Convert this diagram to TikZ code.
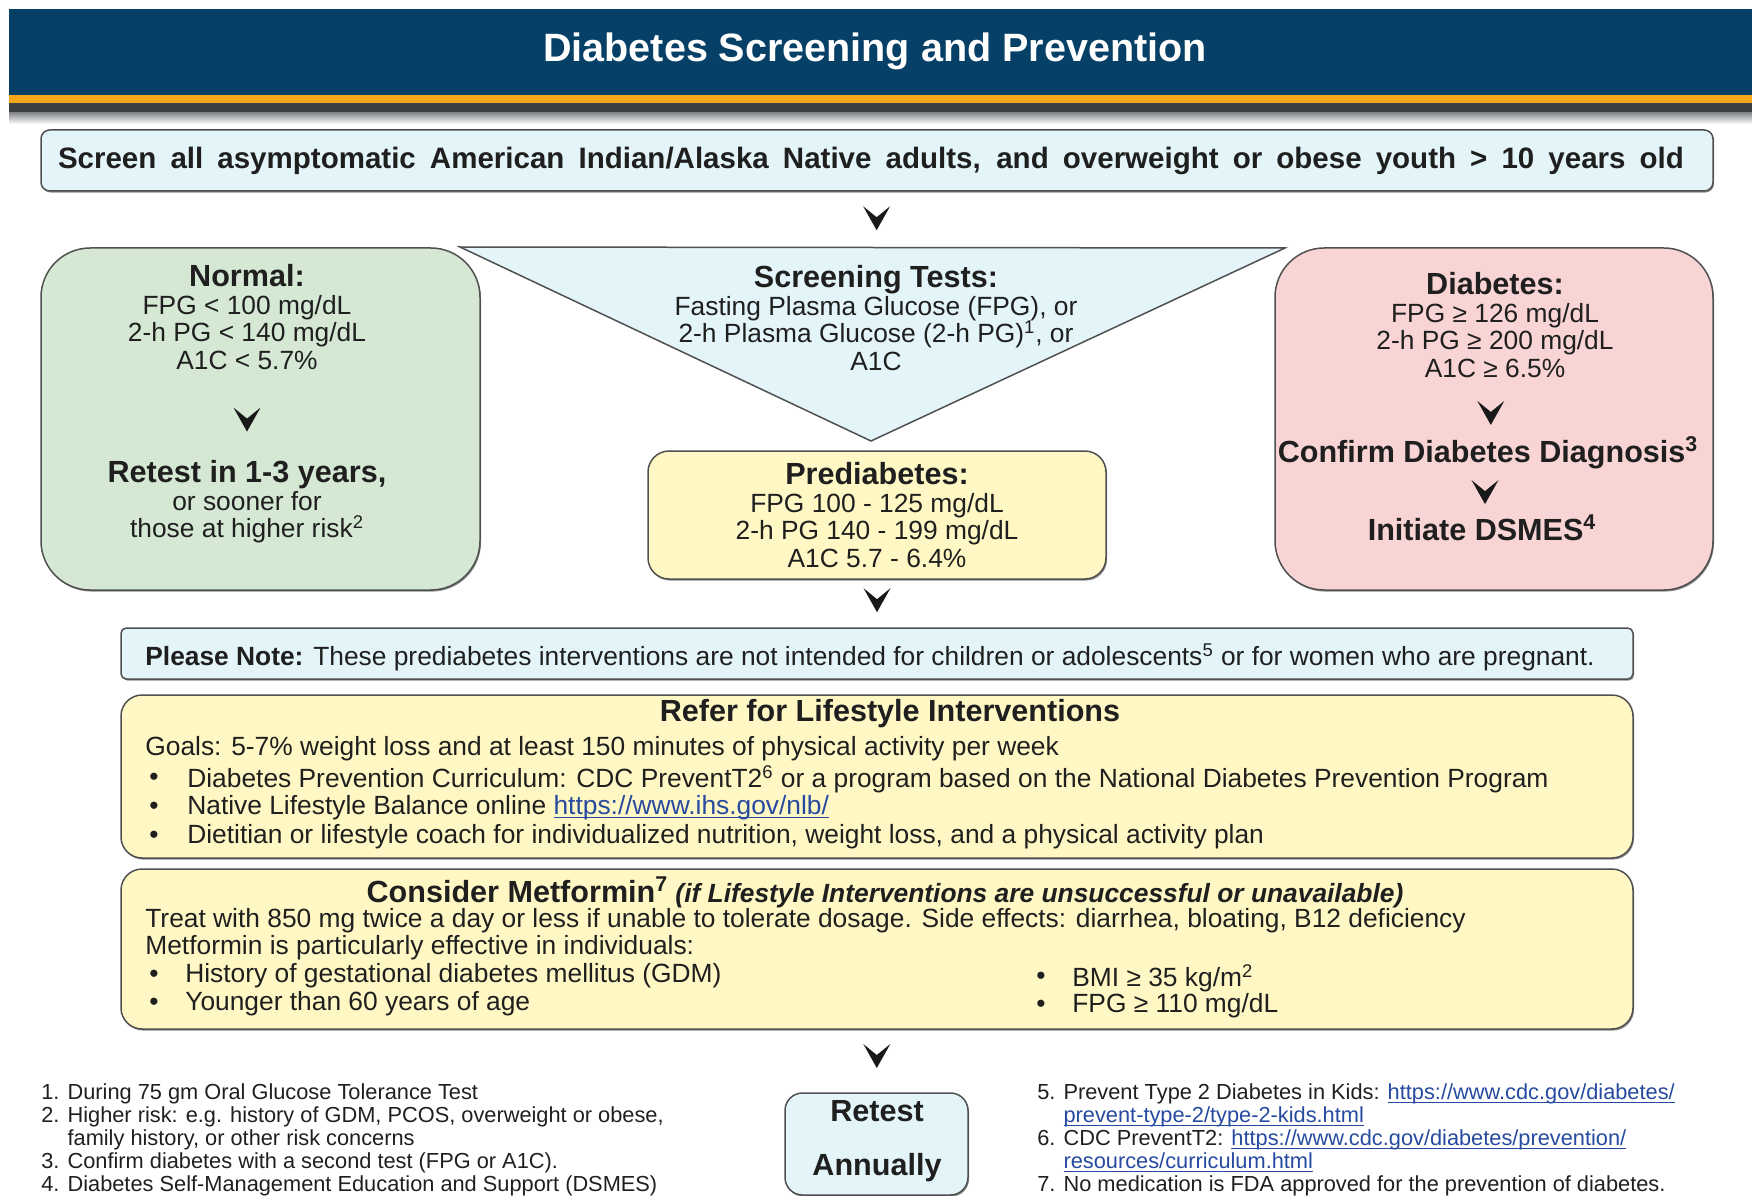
\documentclass[tikz,border=0pt]{standalone}
\usepackage{fontspec}
\setmainfont{Liberation Sans}
\usepackage{tikz}
\usetikzlibrary{fit,calc,shadows}

\definecolor{hdrblue}{RGB}{7,64,103}
\definecolor{hdrorange}{RGB}{247,167,27}
\definecolor{hdrgray}{RGB}{60,64,68}
\definecolor{boxblue}{RGB}{228,245,250}
\definecolor{boxgreen}{RGB}{213,232,212}
\definecolor{boxpink}{RGB}{248,212,212}
\definecolor{boxyellow}{RGB}{255,248,196}
\definecolor{boxline}{RGB}{80,80,80}
\definecolor{linkblue}{RGB}{38,74,160}

\newlength{\pxu}\setlength{\pxu}{0.02cm}
\newcommand{\ftitle}{\fontsize{22.5}{24}\selectfont\bfseries}
\newcommand{\fhead}{\fontsize{17.4}{19}\selectfont\bfseries}
\newcommand{\fbody}{\fontsize{15}{15.6}\selectfont}
\newcommand{\ffoot}{\fontsize{12.4}{13.2}\selectfont}
\newcommand{\weblink}[1]{\textcolor{linkblue}{\setbox0\hbox{#1}\rlap{\rule[-2pt]{\wd0}{0.55pt}}\box0}}

\begin{document}
\begin{tikzpicture}[x=0.02cm, y=-0.02cm,
    box/.style={draw=boxline, line width=1.5\pxu, inner sep=0pt,
      drop shadow={shadow xshift=0.6pt, shadow yshift=-0.9pt, opacity=0.45, fill=black}},
    txt/.style={font=\fbody, align=center, inner sep=0pt, text=black!88},
    lefttxt/.style={font=\fbody, align=left, anchor=west, inner sep=0pt, text=black!88},
    chev/.pic={\fill[black!90] (0,12) -- (-13.5,-12) -- (0,-1) -- (13.5,-12) -- cycle;}]
    \useasboundingbox (0,0) rectangle (1752,1196);
    % header band
    \fill[hdrblue] (9,9) rectangle (1752,95);
    \fill[hdrorange] (9,95) rectangle (1752,103);
    \fill[hdrgray] (9,103) rectangle (1752,113);
    \shade[top color=hdrgray!60, bottom color=white] (9,113) rectangle (1752,124);
    \node[font=\ftitle, text=white] (title) at (875,51) {Diabetes Screening and Prevention};

    % who to screen
    \node[box, fill=boxblue, rounded corners=5pt, fit={(41,130) (1713,191)}] (screen) {};
    \node[txt, font=\fontsize{16.8}{18}\selectfont\bfseries] (screentxt) at (871,161)
      {\makebox[1626\pxu][s]{Screen all asymptomatic American Indian/Alaska Native adults, and overweight or obese youth > 10 years old}};

    % screening tests (funnel)
    \coordinate (tl) at (460,247);
    \coordinate (tr) at (1285,248);
    \coordinate (tb) at (871,441);
    \draw[boxline, line width=1.5\pxu, fill=boxblue] (tl) -- (tr) -- (tb) -- cycle;
    \node[txt] (tests) at (876,318) {{\fhead Screening Tests:}\\Fasting Plasma Glucose (FPG), or\\2-h Plasma Glucose (2-h PG)\textsuperscript{1}, or\\A1C};
    \pic at ($(screen.south)!0.36!(tests.north)$) {chev};

    % normal
    \node[box, fill=boxgreen, rounded corners=28pt, fit={(41,248) (480,590)}] (normal) {};
    \node[txt] (normalvals) at (247,317) {{\fhead Normal:}\\FPG < 100 mg/dL\\2-h PG < 140 mg/dL\\A1C < 5.7\%};
    \node[txt] (normalretest) at (247,502) {{\fhead Retest in 1-3 years,}\\or sooner for\\those at higher risk\textsuperscript{2}};
    \pic at ($(normalvals.south)!0.55!(normalretest.north)$) {chev};

    % prediabetes
    \node[box, fill=boxyellow, rounded corners=12pt, fit={(648,451) (1106,579)}] (pre) {};
    \node[txt] (prevals) at (877,515) {{\fhead Prediabetes:}\\FPG 100 - 125 mg/dL\\2-h PG 140 - 199 mg/dL\\A1C 5.7 - 6.4\%};

    % diabetes
    \node[box, fill=boxpink, rounded corners=28pt, fit={(1275,248) (1713,590)}] (diab) {};
    \node[txt] (diabvals) at (1495,325) {{\fhead Diabetes:}\\FPG ≥ 126 mg/dL\\2-h PG ≥ 200 mg/dL\\A1C ≥ 6.5\%};
    \node[txt, font=\fhead] (confirm) at (1488,453) {Confirm Diabetes Diagnosis\textsuperscript{3}};
    \node[txt, font=\fhead] (dsmes) at (1482,528) {Initiate DSMES\textsuperscript{4}};
    \pic at ($(diabvals.south)!0.6!(confirm.north)$) {chev};
    \pic at ($(confirm.south)!0.5!(dsmes.north)$) {chev};

    % note
    \node[box, fill=boxblue, rounded corners=3pt, fit={(121,628) (1633,679)}] (note) {};
    \node[lefttxt] (notetxt) at (145,657) {\textbf{Please Note:} These prediabetes interventions are not intended for children or adolescents\textsuperscript{5} or for women who are pregnant.};
    \pic at ($(pre.south)!0.43!(note.north)$) {chev};

    % lifestyle
    \node[box, fill=boxyellow, rounded corners=12pt, fit={(121,695) (1633,858)}] (life) {};
    \node[txt, font=\fhead] (lifehead) at (890,714) {Refer for Lifestyle Interventions};
    \node[lefttxt] (goals) at (145,749) {Goals: 5-7\% weight loss and at least 150 minutes of physical activity per week};
    \foreach \y/\t [count=\i] in {779/{Diabetes Prevention Curriculum: CDC PreventT2\textsuperscript{6} or a program based on the National Diabetes Prevention Program},
        808/{Native Lifestyle Balance online \weblink{https://www.ihs.gov/nlb/}},
        837/{Dietitian or lifestyle coach for individualized nutrition, weight loss, and a physical activity plan}} {
      \node[lefttxt] (lifebul\i) at (149,\y) {•};
      \node[lefttxt] (lifeitem\i) at (187,\y) {\t};
    }

    % metformin
    \node[box, fill=boxyellow, rounded corners=12pt, fit={(121,869) (1633,1029)}] (met) {};
    \node[txt] (methead) at (885,892) {{\fhead Consider Metformin\textsuperscript{7}} {\bfseries\itshape (if Lifestyle Interventions are unsuccessful or unavailable)}};
    \node[lefttxt] (treat) at (145,921) {Treat with 850 mg twice a day or less if unable to tolerate dosage. Side effects: diarrhea, bloating, B12 deficiency};
    \node[lefttxt] (effective) at (145,948) {Metformin is particularly effective in individuals:};
    \foreach \x/\y/\t [count=\i] in {149/976/{History of gestational diabetes mellitus (GDM)},
        149/1004/{Younger than 60 years of age},
        1036/978/{BMI ≥ 35 kg/m\textsuperscript{2}},
        1036/1006/{FPG ≥ 110 mg/dL}} {
      \node[lefttxt] (metbul\i) at (\x,\y) {•};
      \node[lefttxt] (metitem\i) at (\x+36,\y) {\t};
    }

    % retest
    \node[box, fill=boxblue, rounded corners=10pt, fit={(785,1093) (968,1195)}] (retest) {};
    \node[txt, font=\fhead] (retesttxt) at (877,1141) {Retest\\[12pt]Annually};
    \pic at ($(met.south)!0.42!(retest.north)$) {chev};

    % footnotes
    \node[anchor=north west, font=\ffoot, align=left, inner sep=0pt, text=black!88] (notesl) at (41,1083)
      {1. During 75 gm Oral Glucose Tolerance Test\\
       2. Higher risk: e.g. history of GDM, PCOS, overweight or obese,\\
       \phantom{2. }family history, or other risk concerns\\
       3. Confirm diabetes with a second test (FPG or A1C).\\
       4. Diabetes Self-Management Education and Support (DSMES)};
    \node[anchor=north west, font=\ffoot, align=left, inner sep=0pt, text=black!88] (notesr) at (1037,1083)
      {5. Prevent Type 2 Diabetes in Kids: \weblink{https://www.cdc.gov/diabetes/}\\
       \phantom{5. }\weblink{prevent-type-2/type-2-kids.html}\\
       6. CDC PreventT2: \weblink{https://www.cdc.gov/diabetes/prevention/}\\
       \phantom{6. }\weblink{resources/curriculum.html}\\
       7. No medication is FDA approved for the prevention of diabetes.};
  \end{tikzpicture}
\end{document}
